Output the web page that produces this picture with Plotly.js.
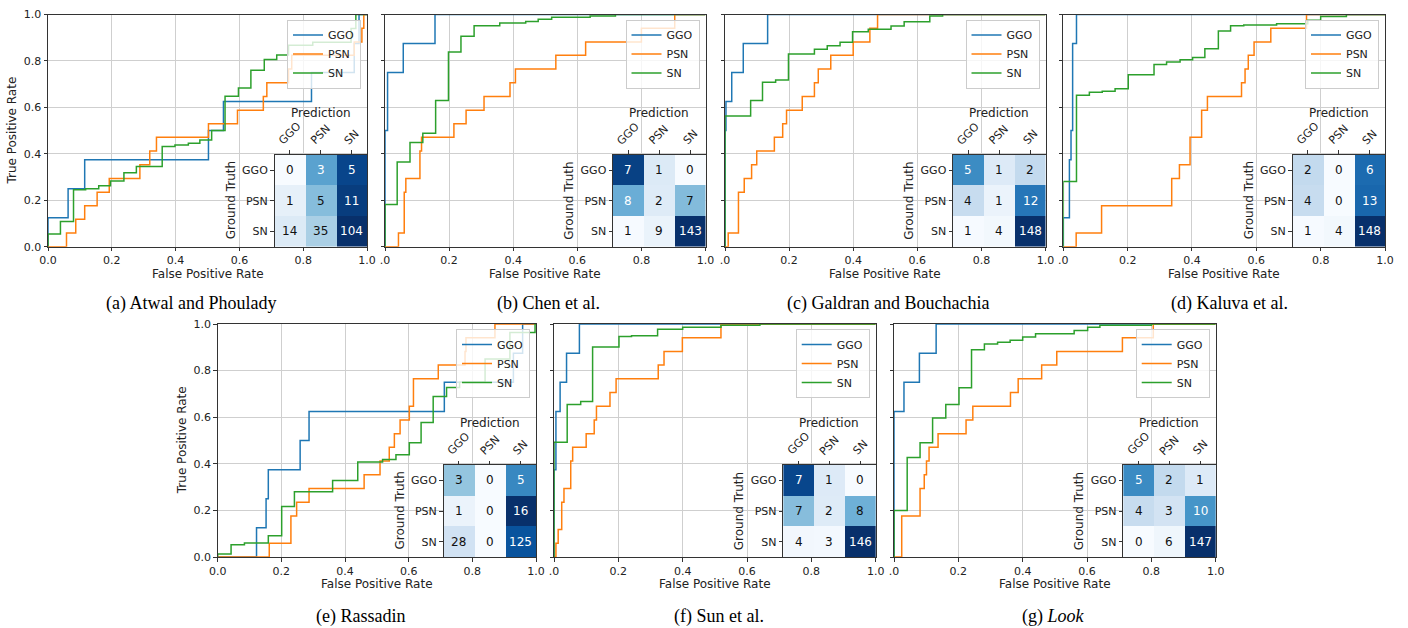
<!DOCTYPE html>
<html><head><meta charset="utf-8">
<script src="https://cdn.plot.ly/plotly-3.0.1.min.js"></script>
<style>html,body{margin:0;padding:0;background:#fff;}#chart{width:1408px;height:628px;}</style>
</head><body><div id="chart"></div>
<script>
// ---------------- data ----------------
const classes = ['GGO', 'PSN', 'SN'];
const captions = ['(a) Atwal and Phoulady', '(b) Chen et al.', '(c) Galdran and Bouchachia', '(d) Kaluva et al.',
                  '(e) Rassadin', '(f) Sun et al.', '(g) <i>Look</i>'];
const fprTicks = [0, 0.2, 0.4, 0.6, 0.8, 1.0];
const tickLabelsFull = ['0.0', '0.2', '0.4', '0.6', '0.8', '1.0'];
const tickLabelsCut = ['.0', '0.2', '0.4', '0.6', '0.8', '1.0'];

// (a) Atwal and Phoulady
const a_ggo_fpr = [0, 0, 0.063, 0.115, 0.503, 0.55, 0.826, 0.96, 0.975, 1];
const a_ggo_tpr = [0, 0.125, 0.25, 0.375, 0.5, 0.625, 0.75, 0.875, 1, 1];
const a_psn_fpr = [0, 0.058, 0.087, 0.115, 0.154, 0.192, 0.288, 0.319, 0.34, 0.503, 0.594, 0.675, 0.686, 0.754, 0.764, 0.96, 0.984, 0.99, 1];
const a_psn_tpr = [0, 0.059, 0.118, 0.176, 0.235, 0.294, 0.353, 0.412, 0.471, 0.529, 0.588, 0.647, 0.706, 0.765, 0.824, 0.882, 0.941, 1, 1];
const a_sn_fpr = [0, 0, 0.039, 0.08, 0.118, 0.159, 0.196, 0.238, 0.277, 0.358, 0.398, 0.44, 0.476, 0.513, 0.555, 0.597, 0.636, 0.678, 0.717, 0.754, 0.83, 0.95, 0.965, 1];
const a_sn_tpr = [0, 0.055, 0.108, 0.245, 0.25, 0.263, 0.283, 0.318, 0.345, 0.432, 0.438, 0.446, 0.46, 0.5, 0.648, 0.683, 0.76, 0.806, 0.826, 0.868, 0.88, 0.94, 1, 1];
const a_cm = [[0, 3, 5], [1, 5, 11], [14, 35, 104]];

// (b) Chen et al.
const b_ggo_fpr = [0, 0, 0.008, 0.057, 0.156, 1];
const b_ggo_tpr = [0, 0.5, 0.75, 0.875, 1, 1];
const b_psn_fpr = [0, 0.042, 0.06, 0.065, 0.109, 0.114, 0.215, 0.253, 0.309, 0.39, 0.407, 0.533, 0.626, 0.8, 0.904, 1];
const b_psn_tpr = [0, 0.059, 0.235, 0.294, 0.412, 0.471, 0.529, 0.588, 0.647, 0.706, 0.765, 0.824, 0.882, 0.941, 1, 1];
const b_sn_fpr = [0, 0, 0.038, 0.078, 0.118, 0.158, 0.198, 0.237, 0.278, 0.358, 0.439, 0.478, 0.52, 0.64, 0.719, 1];
const b_sn_tpr = [0, 0.182, 0.365, 0.449, 0.489, 0.63, 0.838, 0.906, 0.952, 0.963, 0.97, 0.98, 0.988, 0.994, 1, 1];
const b_cm = [[7, 1, 0], [8, 2, 7], [1, 9, 143]];

// (c) Galdran and Bouchachia
const c_ggo_fpr = [0, 0, 0.003, 0.021, 0.057, 0.133, 1];
const c_ggo_tpr = [0, 0.5, 0.625, 0.75, 0.875, 1, 1];
const c_psn_fpr = [0, 0.01, 0.042, 0.06, 0.083, 0.099, 0.154, 0.18, 0.192, 0.241, 0.279, 0.291, 0.33, 0.4, 0.452, 0.476, 1];
const c_psn_tpr = [0, 0.059, 0.235, 0.294, 0.353, 0.412, 0.471, 0.529, 0.588, 0.647, 0.706, 0.765, 0.824, 0.882, 0.941, 1, 1];
const c_sn_fpr = [0, 0, 0.08, 0.117, 0.158, 0.198, 0.279, 0.319, 0.359, 0.398, 0.447, 0.518, 0.559, 0.639, 0.679, 1];
const c_sn_tpr = [0, 0.563, 0.63, 0.708, 0.718, 0.83, 0.85, 0.865, 0.88, 0.926, 0.936, 0.95, 0.969, 0.994, 1, 1];
const c_cm = [[5, 1, 2], [4, 1, 12], [1, 4, 148]];

// (d) Kaluva et al.
const d_ggo_fpr = [0, 0, 0.019, 0.024, 0.029, 0.041, 1];
const d_ggo_tpr = [0, 0.125, 0.375, 0.5, 0.875, 1, 1];
const d_psn_fpr = [0, 0.04, 0.119, 0.337, 0.361, 0.394, 0.43, 0.448, 0.554, 0.565, 0.575, 0.593, 0.645, 0.756, 1];
const d_psn_tpr = [0, 0.059, 0.176, 0.294, 0.353, 0.471, 0.588, 0.647, 0.706, 0.765, 0.824, 0.882, 0.941, 1, 1];
const d_sn_fpr = [0, 0, 0.041, 0.081, 0.121, 0.161, 0.202, 0.282, 0.321, 0.363, 0.402, 0.44, 0.482, 0.52, 0.561, 0.663, 0.76, 0.8, 0.88, 1];
const d_sn_tpr = [0, 0.281, 0.652, 0.665, 0.67, 0.68, 0.741, 0.785, 0.795, 0.805, 0.815, 0.852, 0.929, 0.952, 0.955, 0.96, 0.975, 0.991, 1, 1];
const d_cm = [[2, 0, 6], [4, 0, 13], [1, 4, 148]];

// (e) Rassadin
const e_ggo_fpr = [0, 0.122, 0.152, 0.159, 0.259, 0.287, 0.712, 0.929, 0.958, 1];
const e_ggo_tpr = [0, 0.125, 0.25, 0.375, 0.5, 0.625, 0.75, 0.875, 1, 1];
const e_psn_fpr = [0, 0.162, 0.23, 0.248, 0.287, 0.46, 0.51, 0.539, 0.555, 0.573, 0.602, 0.615, 0.693, 0.777, 0.78, 0.871, 1];
const e_psn_tpr = [0, 0.059, 0.176, 0.235, 0.294, 0.353, 0.412, 0.471, 0.529, 0.588, 0.647, 0.765, 0.824, 0.882, 0.941, 1, 1];
const e_sn_fpr = [0, 0, 0.042, 0.084, 0.159, 0.201, 0.241, 0.361, 0.44, 0.518, 0.56, 0.602, 0.639, 0.677, 0.719, 0.76, 0.84, 0.918, 0.997, 1];
const e_sn_tpr = [0, 0.013, 0.053, 0.06, 0.091, 0.217, 0.28, 0.328, 0.408, 0.418, 0.439, 0.49, 0.577, 0.689, 0.728, 0.75, 0.85, 0.964, 1, 1];
const e_cm = [[3, 0, 5], [1, 0, 16], [28, 0, 125]];

// (f) Sun et al.
const f_ggo_fpr = [0, 0, 0.006, 0.019, 0.039, 0.079, 1];
const f_ggo_tpr = [0, 0.375, 0.625, 0.75, 0.875, 1, 1];
const f_psn_fpr = [0, 0.006, 0.013, 0.024, 0.031, 0.052, 0.058, 0.1, 0.125, 0.132, 0.174, 0.193, 0.324, 0.342, 0.399, 0.519, 1];
const f_psn_tpr = [0, 0.059, 0.118, 0.235, 0.294, 0.412, 0.471, 0.529, 0.588, 0.647, 0.706, 0.765, 0.824, 0.882, 0.941, 1, 1];
const f_sn_fpr = [0, 0, 0.041, 0.083, 0.12, 0.202, 0.241, 0.322, 0.4, 0.519, 0.64, 1];
const f_sn_tpr = [0, 0.492, 0.655, 0.667, 0.901, 0.946, 0.95, 0.977, 0.986, 0.995, 1, 1];
const f_cm = [[7, 1, 0], [7, 2, 8], [4, 3, 146]];

// (g) Look
const g_ggo_fpr = [0, 0, 0.031, 0.079, 0.131, 1];
const g_ggo_tpr = [0, 0.625, 0.75, 0.875, 1, 1];
const g_psn_fpr = [0, 0.024, 0.081, 0.094, 0.101, 0.109, 0.137, 0.224, 0.245, 0.362, 0.386, 0.459, 0.506, 0.71, 0.806, 1];
const g_psn_tpr = [0, 0.176, 0.294, 0.353, 0.412, 0.471, 0.529, 0.588, 0.647, 0.706, 0.765, 0.824, 0.882, 0.941, 1, 1];
const g_sn_fpr = [0, 0, 0.041, 0.081, 0.12, 0.161, 0.202, 0.241, 0.281, 0.322, 0.361, 0.4, 0.44, 0.56, 0.602, 0.64, 0.8, 1];
const g_sn_tpr = [0, 0.2, 0.427, 0.49, 0.597, 0.654, 0.726, 0.89, 0.914, 0.922, 0.93, 0.944, 0.958, 0.972, 0.986, 0.995, 1, 1];
const g_cm = [[5, 2, 1], [4, 3, 10], [0, 6, 147]];

const panelsData = [
  {roc: [[a_ggo_fpr, a_ggo_tpr], [a_psn_fpr, a_psn_tpr], [a_sn_fpr, a_sn_tpr]], cm: a_cm},
  {roc: [[b_ggo_fpr, b_ggo_tpr], [b_psn_fpr, b_psn_tpr], [b_sn_fpr, b_sn_tpr]], cm: b_cm},
  {roc: [[c_ggo_fpr, c_ggo_tpr], [c_psn_fpr, c_psn_tpr], [c_sn_fpr, c_sn_tpr]], cm: c_cm},
  {roc: [[d_ggo_fpr, d_ggo_tpr], [d_psn_fpr, d_psn_tpr], [d_sn_fpr, d_sn_tpr]], cm: d_cm},
  {roc: [[e_ggo_fpr, e_ggo_tpr], [e_psn_fpr, e_psn_tpr], [e_sn_fpr, e_sn_tpr]], cm: e_cm},
  {roc: [[f_ggo_fpr, f_ggo_tpr], [f_psn_fpr, f_psn_tpr], [f_sn_fpr, f_sn_tpr]], cm: f_cm},
  {roc: [[g_ggo_fpr, g_ggo_tpr], [g_psn_fpr, g_psn_tpr], [g_sn_fpr, g_sn_tpr]], cm: g_cm}
];

// ---------------- layout geometry (pixels) ----------------
const W = 1408, H = 628;
const geom = [
  {L: 48, R: 367, T: 14.5, B: 246.7, ylab: true, cx: 191, cy: 303},
  {L: 385, R: 705.5, T: 14.5, B: 246.7, ylab: false, cx: 548, cy: 303},
  {L: 725, R: 1045.5, T: 14.5, B: 246.7, ylab: false, cx: 888, cy: 303},
  {L: 1063.3, R: 1385, T: 14.5, B: 246.7, ylab: false, cx: 1229, cy: 303},
  {L: 217.7, R: 536, T: 324, B: 557, ylab: true, cx: 360, cy: 616},
  {L: 554, R: 875.7, T: 324, B: 557, ylab: false, cx: 719, cy: 616},
  {L: 894, R: 1215.7, T: 324, B: 557, ylab: false, cx: 1053, cy: 616}
];
const colors = ['#1f77b4', '#ff7f0e', '#2ca02c'];
const blues = [[0, '#f7fbff'], [0.125, '#deebf7'], [0.25, '#c6dbef'], [0.375, '#9ecae1'], [0.5, '#6baed6'],
               [0.625, '#4292c6'], [0.75, '#2171b5'], [0.875, '#08519c'], [1, '#08306b']];
const FONT = 'DejaVu Sans, Arial, sans-serif';
const TICK = 11, LABEL = 12;
const px = x => x / W;
const py = y => 1 - y / H;
const axName = (p, n) => p + 'axis' + (n === 1 ? '' : n);
const ref = (p, n) => p + (n === 1 ? '' : n);

const traces = [];
const annotations = [];
const layout = {
  width: W, height: H, margin: {l: 0, r: 0, t: 0, b: 0, pad: 0},
  paper_bgcolor: '#ffffff', plot_bgcolor: '#ffffff',
  font: {family: FONT, size: TICK, color: '#222'},
  showlegend: true, hovermode: false
};

geom.forEach((g, i) => {
  const n = i + 1;          // ROC axes id
  const h = i + 8;          // heatmap axes id
  const legendId = i === 0 ? 'legend' : 'legend' + (i + 1);
  const pd = panelsData[i];

  pd.roc.forEach((c, k) => {
    traces.push({
      type: 'scatter', mode: 'lines', x: c[0], y: c[1], name: classes[k],
      line: {color: colors[k], width: 1.5, shape: 'hv'},
      xaxis: ref('x', n), yaxis: ref('y', n), legend: legendId, showlegend: true, cliponaxis: true
    });
  });

  const common = {
    showgrid: true, gridcolor: '#cfcfcf', gridwidth: 1, zeroline: false,
    showline: true, mirror: true, linecolor: '#333', linewidth: 1,
    ticks: 'outside', ticklen: 3.5, tickcolor: '#333', tickwidth: 1,
    tickfont: {family: FONT, size: TICK, color: '#222'},
    range: [0, 1], tickmode: 'array', tickvals: fprTicks, fixedrange: true, layer: 'above traces'
  };
  layout[axName('x', n)] = Object.assign({}, common, {
    domain: [px(g.L), px(g.R)], anchor: ref('y', n),
    ticktext: g.ylab ? tickLabelsFull : tickLabelsCut
  });
  layout[axName('y', n)] = Object.assign({}, common, {
    domain: [py(g.B), py(g.T)], anchor: ref('x', n),
    ticktext: tickLabelsFull, showticklabels: g.ylab
  });

  layout[legendId] = {
    x: px(g.R - 6), y: py(g.T + 5), xanchor: 'right', yanchor: 'top',
    bgcolor: 'rgba(255,255,255,0.8)', bordercolor: '#cccccc', borderwidth: 1,
    font: {family: FONT, size: TICK, color: '#222'}, itemwidth: 30, tracegroupgap: 0
  };

  annotations.push({xref: 'paper', yref: 'paper', x: px((g.L + g.R) / 2), y: py(g.B + 27),
    xanchor: 'center', yanchor: 'middle', showarrow: false, borderpad: 0, text: 'False Positive Rate',
    font: {family: FONT, size: LABEL, color: '#222'}});
  if (g.ylab) {
    annotations.push({xref: 'paper', yref: 'paper', x: px(g.L - 36), y: py((g.T + g.B) / 2),
      xanchor: 'center', yanchor: 'middle', showarrow: false, borderpad: 0, text: 'True Positive Rate', textangle: -90,
      font: {family: FONT, size: LABEL, color: '#222'}});
  }
  annotations.push({xref: 'paper', yref: 'paper', x: px(g.cx), y: py(g.cy), xanchor: 'center', yanchor: 'middle',
    showarrow: false, borderpad: 0, text: captions[i], font: {family: 'Liberation Serif, Times New Roman, serif', size: 18, color: '#000'}});

  // confusion matrix inset
  const hR = g.R, hL = g.R - 92.5, hB = g.B, hT = g.B - 92;
  const cm = pd.cm;
  const norm = cm.map(r => { const s = r.reduce((a, b) => a + b, 0); return r.map(v => v / s); });
  const zmax = Math.max(...norm.flat());
  traces.push({
    type: 'heatmap', z: norm, x: classes, y: classes, xaxis: ref('x', h), yaxis: ref('y', h),
    colorscale: blues, zmin: 0, zmax: zmax, showscale: false, showlegend: false, hoverinfo: 'skip'
  });
  layout[axName('x', h)] = {
    domain: [px(hL), px(hR)], anchor: ref('y', h), side: 'top', type: 'category',
    showticklabels: false, ticks: 'outside', ticklen: 3.5, tickcolor: '#333',
    showline: true, mirror: true, linecolor: '#333', linewidth: 1, showgrid: false, zeroline: false, fixedrange: true
  };
  layout[axName('y', h)] = {
    domain: [py(hB), py(hT)], anchor: ref('x', h), type: 'category', autorange: 'reversed',
    ticks: 'outside', ticklen: 3.5, tickcolor: '#333',
    tickfont: {family: FONT, size: TICK, color: '#222'},
    showline: true, mirror: true, linecolor: '#333', linewidth: 1, showgrid: false, zeroline: false, fixedrange: true
  };
  cm.forEach((row, r) => row.forEach((v, c) => {
    annotations.push({xref: ref('x', h), yref: ref('y', h), x: c, y: r, text: String(v), showarrow: false, borderpad: 0,
      font: {family: FONT, size: 12, color: norm[r][c] > zmax / 2 ? '#ffffff' : '#111111'}});
  }));
  classes.forEach((cl, c) => {
    annotations.push({xref: ref('x', h), yref: 'paper', x: c, y: py(hT - 6), xanchor: 'center', yanchor: 'bottom',
      textangle: -45, text: cl, showarrow: false, borderpad: 0, font: {family: FONT, size: TICK, color: '#222'}});
  });
  annotations.push({xref: 'paper', yref: 'paper', x: px((hL + hR) / 2), y: py(hT - 42), xanchor: 'center', yanchor: 'middle',
    text: 'Prediction', showarrow: false, borderpad: 0, font: {family: FONT, size: LABEL, color: '#222'}});
  annotations.push({xref: 'paper', yref: 'paper', x: px(hL - 44), y: py((hT + hB) / 2), xanchor: 'center', yanchor: 'middle',
    text: 'Ground Truth', textangle: -90, showarrow: false, borderpad: 0, font: {family: FONT, size: LABEL, color: '#222'}});
});

layout.annotations = annotations;
Plotly.newPlot('chart', traces, layout, {displayModeBar: false, staticPlot: true});
</script>
</body></html>
